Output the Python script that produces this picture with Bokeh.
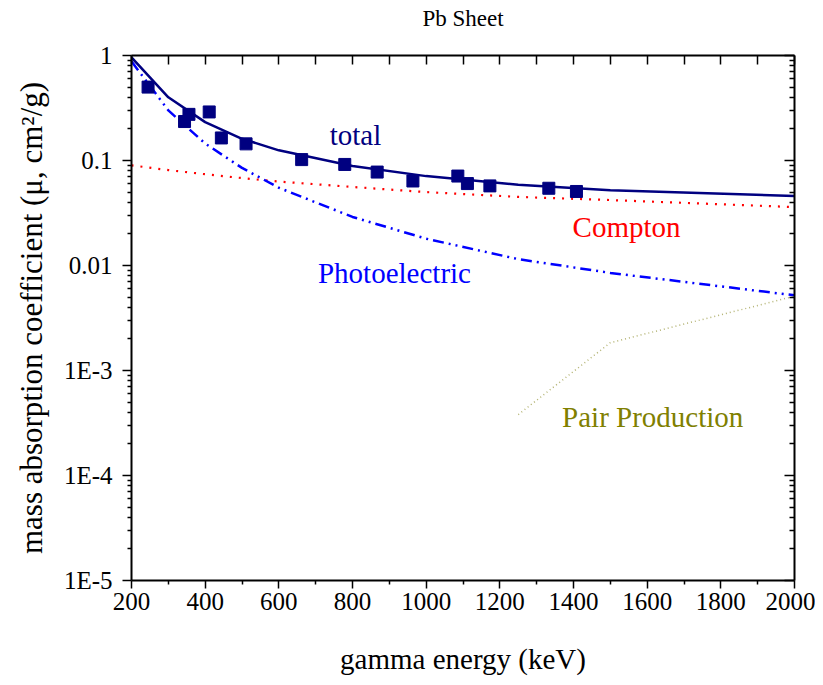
from bokeh.plotting import figure
from bokeh.models import (FixedTicker, LinearAxis, LogAxis, Label, CustomJSTickFormatter)
from bokeh.embed import file_html
from bokeh.resources import INLINE

# ---- data ----
energy_curve = [200, 300, 400, 500, 600, 800, 1000, 1250, 1500, 2000]
total_curve = [0.96, 0.40, 0.232, 0.161, 0.125, 0.0887, 0.071, 0.0588, 0.0522, 0.046]
compton_curve = [0.090, 0.081, 0.074, 0.068, 0.063, 0.056, 0.050, 0.045, 0.042, 0.036]
photo_curve = [0.88, 0.30, 0.145, 0.085, 0.055, 0.029, 0.018, 0.0115, 0.0085, 0.0052]
pair_energy = [1250, 1500, 2000]
pair_curve = [0.00038, 0.00184, 0.0051]

meas_energy = [245, 344, 356, 411, 444, 511, 662, 779, 867, 964, 1086, 1112, 1173, 1333, 1408]
meas_mu = [0.50, 0.235, 0.275, 0.29, 0.164, 0.144, 0.102, 0.0917, 0.0776, 0.0638, 0.0711, 0.0603, 0.0573, 0.0544, 0.0507]

x_major_ticks = [200, 400, 600, 800, 1000, 1200, 1400, 1600, 1800, 2000]
x_minor_ticks = [300, 500, 700, 900, 1100, 1300, 1500, 1700, 1900]
x_top_ticks = list(range(200, 2001, 100))
y_major_ticks = [1e-5, 1e-4, 1e-3, 1e-2, 1e-1, 1]
y_tick_labels = ["1E-5", "1E-4", "1E-3", "0.01", "0.1", "1"]
y_minor_ticks = [m * 10.0 ** k for k in range(-5, 0) for m in range(2, 10)]

FONT = "Liberation Serif"

p = figure(width=815, height=677, y_axis_type="log", x_range=(200, 2000), y_range=(1e-5, 1),
           output_backend="svg", toolbar_location=None,
           min_border_left=131, min_border_right=21, min_border_top=55, min_border_bottom=92)
p.xgrid.visible = False
p.ygrid.visible = False
p.outline_line_color = None
p.background_fill_color = "white"
p.border_fill_color = "white"

# bottom axis
xa = p.xaxis[0]
xa.ticker = FixedTicker(ticks=x_major_ticks, minor_ticks=x_minor_ticks)
xa.major_tick_in = 0
xa.major_tick_out = 8
xa.minor_tick_in = 0
xa.minor_tick_out = 4
xa.axis_line_width = 2
xa.major_tick_line_width = 1.5
xa.minor_tick_line_width = 1.5
xa.major_label_text_font = FONT
xa.major_label_text_font_size = "25px"
xa.major_label_text_color = "black"
xa.major_label_standoff = 4
xa.axis_label = "gamma energy (keV)"
xa.axis_label_text_font = FONT
xa.axis_label_text_font_style = "normal"
xa.axis_label_text_font_size = "29px"
xa.axis_label_text_color = "black"
xa.axis_label_standoff = 30

# left axis
ya = p.yaxis[0]
ya.ticker = FixedTicker(ticks=y_major_ticks, minor_ticks=y_minor_ticks)
ya.formatter = CustomJSTickFormatter(args=dict(labels=y_tick_labels), code="""
    const i = Math.round(Math.log10(tick)) + 5;
    return labels[i];
""")
ya.major_tick_in = 0
ya.major_tick_out = 9
ya.minor_tick_in = 0
ya.minor_tick_out = 4
ya.axis_line_width = 2
ya.major_tick_line_width = 1.5
ya.minor_tick_line_width = 1.5
ya.major_label_text_font = FONT
ya.major_label_text_font_size = "25px"
ya.major_label_text_color = "black"
ya.major_label_standoff = 10
ya.axis_label = "mass absorption coefficient (\u03bc, cm\u00b2/g)"
ya.axis_label_text_font = FONT
ya.axis_label_text_font_style = "normal"
ya.axis_label_text_font_size = "31px"
ya.axis_label_text_color = "black"
ya.axis_label_standoff = 12

blank = CustomJSTickFormatter(code="return '';")

# top axis (carries the chart title as its axis label)
ta = LinearAxis(ticker=FixedTicker(ticks=x_top_ticks, minor_ticks=[]), formatter=blank)
ta.major_tick_in = 9
ta.major_tick_out = 0
ta.minor_tick_in = 0
ta.minor_tick_out = 0
ta.axis_line_width = 2
ta.major_tick_line_width = 1.5
ta.major_label_text_color = None
ta.major_label_text_font_size = "1px"
ta.major_label_standoff = 0
ta.axis_label = "Pb Sheet"
ta.axis_label_text_font = FONT
ta.axis_label_text_font_style = "normal"
ta.axis_label_text_font_size = "23px"
ta.axis_label_text_color = "black"
ta.axis_label_standoff = 25
p.add_layout(ta, "above")

# right axis
ra = LogAxis(ticker=FixedTicker(ticks=y_major_ticks, minor_ticks=y_minor_ticks), formatter=blank)
ra.major_tick_in = 10
ra.major_tick_out = 0
ra.minor_tick_in = 5
ra.minor_tick_out = 0
ra.axis_line_width = 2
ra.major_tick_line_width = 1.5
ra.minor_tick_line_width = 1.5
ra.major_label_text_color = None
ra.major_label_text_font_size = "1px"
ra.major_label_standoff = 0
p.add_layout(ra, "right")

# curves
p.line(energy_curve, compton_curve, line_color="#FF0000", line_width=2.2, line_dash="2 7")
p.line(energy_curve, photo_curve, line_color="#0000FF", line_width=2.5, line_dash="11 5 2 5 2 5")
p.line(pair_energy, pair_curve, line_color="#A0A050", line_width=1.5, line_dash="1 3", line_alpha=0.8)
p.line(energy_curve, total_curve, line_color="#000080", line_width=2.5)
p.scatter(meas_energy, meas_mu, marker="square", size=12, fill_color="#000080", line_color="#000080")

# labels
def lab(x, y, text, color, size="29px"):
    p.add_layout(Label(x=x, y=y, text=text, text_color=color, text_font=FONT,
                       text_font_size=size, text_align="center", text_baseline="middle"))

lab(808, 0.176, "total", "#000080")
lab(1544, 0.0233, "Compton", "#FF0000")
lab(914, 0.0084, "Photoelectric", "#0000FF")
lab(1615, 0.00036, "Pair Production", "#808000")

open("out.html", "w").write(file_html(p, INLINE))
